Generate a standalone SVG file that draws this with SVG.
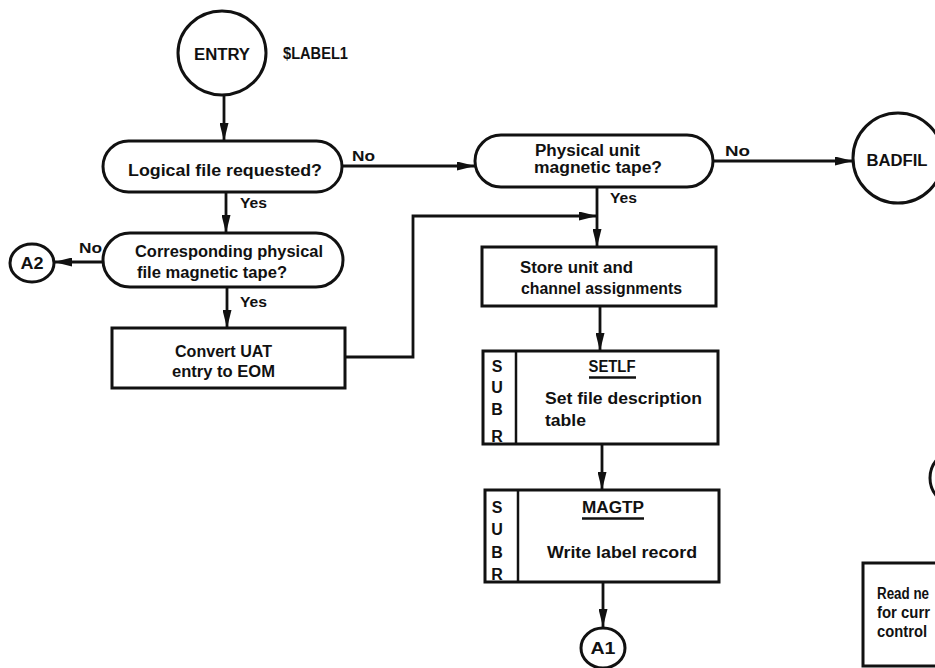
<svg xmlns="http://www.w3.org/2000/svg" width="935" height="668" viewBox="0 0 935 668">
  <style>
    .shape { fill: #fff; stroke: #111; stroke-width: 3; }
    .div { stroke: #111; stroke-width: 2.5; fill: none; }
    .edge { fill: none; stroke: #111; stroke-width: 2.8; }
    text { font-family: "Liberation Sans", Arial, sans-serif; font-weight: bold; fill: #111; }
    .t { font-size: 16px; }
    .s { font-size: 14.5px; }
    .c { text-anchor: middle; }
  </style>
  <defs>
    <marker id="ah" markerWidth="18" markerHeight="9" refX="18" refY="4.5" orient="auto" markerUnits="userSpaceOnUse">
      <path d="M0,0 L18,4.5 L0,9 z" fill="#111"/>
    </marker>
  </defs>
  <rect width="935" height="668" fill="#fff"/>

  <!-- connectors -->
  <g id="connectors">
    <path class="edge" d="M224,95 V141" marker-end="url(#ah)"/>
    <path class="edge" d="M342,166 H475" marker-end="url(#ah)"/>
    <path class="edge" d="M713,161 H853" marker-end="url(#ah)"/>
    <path class="edge" d="M226,192 V233" marker-end="url(#ah)"/>
    <path class="edge" d="M103,262 H54" marker-end="url(#ah)"/>
    <path class="edge" d="M227,287 V328" marker-end="url(#ah)"/>
    <path class="edge" d="M345,357 H413 V216 H597" marker-end="url(#ah)"/>
    <path class="edge" d="M597,187 V247" marker-end="url(#ah)"/>
    <path class="edge" d="M600,306 V351" marker-end="url(#ah)"/>
    <path class="edge" d="M602,444 V490" marker-end="url(#ah)"/>
    <path class="edge" d="M603,582 V627" marker-end="url(#ah)"/>
    <text class="s" x="352" y="161" textLength="23" lengthAdjust="spacingAndGlyphs">No</text>
    <text class="s" x="725" y="156" textLength="25" lengthAdjust="spacingAndGlyphs">No</text>
    <text class="s" x="240" y="208" textLength="27" lengthAdjust="spacingAndGlyphs">Yes</text>
    <text class="s" x="79" y="253" textLength="23" lengthAdjust="spacingAndGlyphs">No</text>
    <text class="s" x="240" y="307" textLength="27" lengthAdjust="spacingAndGlyphs">Yes</text>
    <text class="s" x="610" y="203" textLength="27" lengthAdjust="spacingAndGlyphs">Yes</text>
  </g>

  <!-- entry terminal -->
  <g id="entry">
    <ellipse class="shape" cx="222" cy="53" rx="44" ry="42"/>
    <text class="t c" x="222" y="60" textLength="56" lengthAdjust="spacingAndGlyphs">ENTRY</text>
    <text class="t" x="283" y="59" textLength="65" lengthAdjust="spacingAndGlyphs">$LABEL1</text>
  </g>

  <g id="logical-file">
    <rect class="shape" x="103" y="141" width="239" height="51" rx="25.5"/>
    <text class="t" x="128" y="176" textLength="194" lengthAdjust="spacingAndGlyphs">Logical file requested?</text>
  </g>

  <g id="physical-unit">
    <rect class="shape" x="475" y="135" width="238" height="52" rx="26"/>
    <text class="t" x="535" y="156" textLength="105" lengthAdjust="spacingAndGlyphs">Physical unit</text>
    <text class="t" x="534" y="173" textLength="128" lengthAdjust="spacingAndGlyphs">magnetic tape?</text>
  </g>

  <g id="badfil">
    <circle class="shape" cx="898" cy="158" r="45"/>
    <text class="t c" x="897" y="166" textLength="61" lengthAdjust="spacingAndGlyphs">BADFIL</text>
  </g>

  <g id="corresponding">
    <rect class="shape" x="103" y="233" width="240" height="54" rx="27"/>
    <text class="t" x="135" y="257" textLength="188" lengthAdjust="spacingAndGlyphs">Corresponding physical</text>
    <text class="t" x="137" y="278" textLength="150" lengthAdjust="spacingAndGlyphs">file magnetic tape?</text>
  </g>

  <g id="a2">
    <ellipse class="shape" cx="32" cy="263" rx="22" ry="19"/>
    <text class="t c" x="32" y="269" textLength="23" lengthAdjust="spacingAndGlyphs">A2</text>
  </g>

  <g id="convert">
    <rect class="shape" x="112" y="328" width="233" height="60"/>
    <text class="t" x="175" y="357" textLength="97" lengthAdjust="spacingAndGlyphs">Convert UAT</text>
    <text class="t" x="172" y="377" textLength="103" lengthAdjust="spacingAndGlyphs">entry to EOM</text>
  </g>

  <g id="store">
    <rect class="shape" x="482" y="247" width="234" height="59"/>
    <text class="t" x="520" y="273" textLength="113" lengthAdjust="spacingAndGlyphs">Store unit and</text>
    <text class="t" x="521" y="294" textLength="161" lengthAdjust="spacingAndGlyphs">channel assignments</text>
  </g>

  <g id="setlf">
    <rect class="shape" x="483" y="351" width="235" height="93"/>
    <line class="div" x1="516" y1="351" x2="516" y2="444"/>
    <text class="t c" x="497" y="372">S</text>
    <text class="t c" x="497" y="393">U</text>
    <text class="t c" x="497" y="415">B</text>
    <text class="t c" x="497" y="442">R</text>
    <text class="t c" x="612" y="372" textLength="47" lengthAdjust="spacingAndGlyphs">SETLF</text>
    <line class="div" x1="589" y1="377.5" x2="636" y2="377.5"/>
    <text class="t" x="545" y="404" textLength="157" lengthAdjust="spacingAndGlyphs">Set file description</text>
    <text class="t" x="545" y="426" textLength="41" lengthAdjust="spacingAndGlyphs">table</text>
  </g>

  <g id="magtp">
    <rect class="shape" x="485" y="490" width="234" height="92"/>
    <line class="div" x1="518" y1="490" x2="518" y2="582"/>
    <text class="t c" x="497" y="513">S</text>
    <text class="t c" x="497" y="535">U</text>
    <text class="t c" x="497" y="558">B</text>
    <text class="t c" x="497" y="580">R</text>
    <text class="t c" x="613" y="513" textLength="62" lengthAdjust="spacingAndGlyphs">MAGTP</text>
    <line class="div" x1="582" y1="518.5" x2="644" y2="518.5"/>
    <text class="t" x="547" y="558" textLength="150" lengthAdjust="spacingAndGlyphs">Write label record</text>
  </g>

  <g id="a1">
    <ellipse class="shape" cx="603" cy="648" rx="22" ry="20"/>
    <text class="t c" x="603" y="654" textLength="25" lengthAdjust="spacingAndGlyphs">A1</text>
  </g>

  <!-- right margin: connector and process block running off the sheet -->
  <g id="connector-right">
    <circle class="shape" cx="958" cy="478" r="28"/>
  </g>

  <g id="read-next">
    <rect class="shape" x="863" y="563" width="100" height="103"/>
    <text class="t" x="877" y="599" textLength="52" lengthAdjust="spacingAndGlyphs">Read ne</text>
    <text class="t" x="877" y="618" textLength="53" lengthAdjust="spacingAndGlyphs">for curr</text>
    <text class="t" x="877" y="637" textLength="50" lengthAdjust="spacingAndGlyphs">control</text>
  </g>
</svg>
